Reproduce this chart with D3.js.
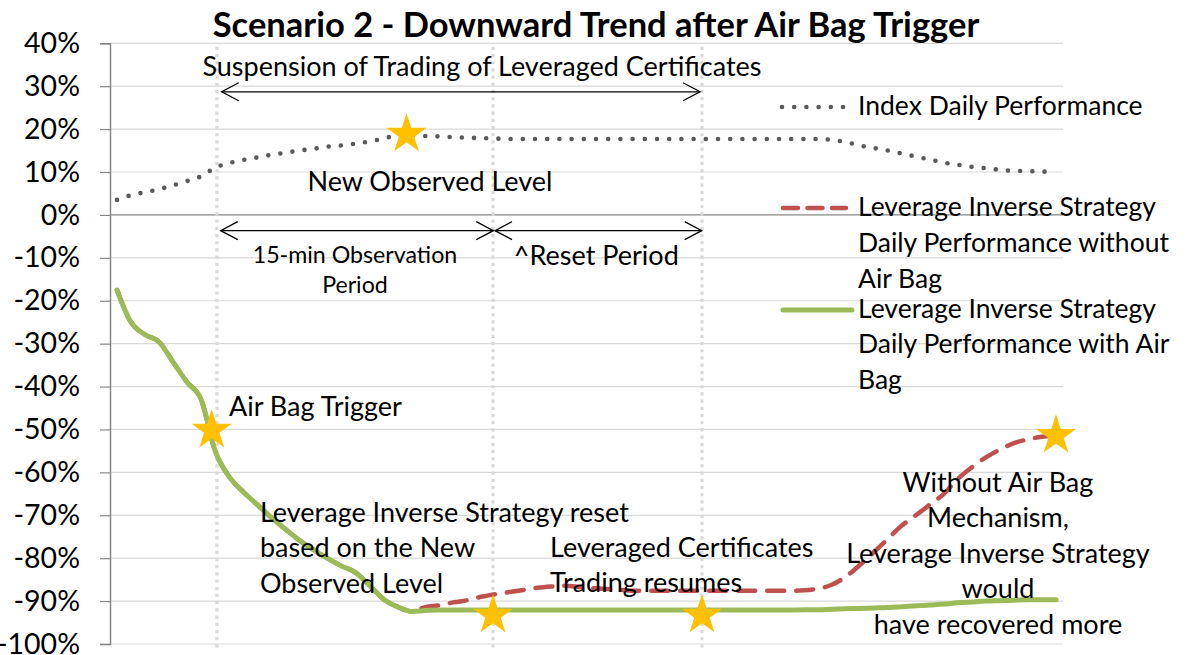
<!DOCTYPE html>
<html>
<head>
<meta charset="utf-8">
<script src="https://cdn.jsdelivr.net/npm/d3@7"></script>
<style>
  html, body { margin: 0; padding: 0; background: #fff; }
  svg { display: block; font-family: Lato, "Open Sans", sans-serif; }
</style>
</head>
<body>
<svg id="chart" width="1187" height="655"></svg>
<script>
// ---------------- DATA ----------------
const title = "Scenario 2 - Downward Trend after Air Bag Trigger";
const yTicks = [40, 30, 20, 10, 0, -10, -20, -30, -40, -50, -60, -70, -80, -90, -100];

// 68 time steps (category index 0..67)
const indexPerf = [
  3.5, 4.6, 5.3, 6.0, 6.9, 7.9, 9.0, 11.0, 12.1, 12.8,
  13.4, 14.0, 14.5, 15.0, 15.4, 15.9, 16.2, 16.6, 17.1, 17.8,
  18.5, 18.6, 18.4, 18.3, 18.1, 18.0, 17.9, 17.8, 17.7, 17.7,
  17.7, 17.7, 17.7, 17.7, 17.7, 17.7, 17.7, 17.7, 17.7, 17.7,
  17.7, 17.7, 17.7, 17.7, 17.7, 17.7, 17.7, 17.7, 17.7, 17.7,
  17.7, 17.5, 17.0, 16.2, 15.6, 15.0, 14.3, 13.6, 12.9, 12.2,
  11.7, 11.2, 10.9, 10.5, 10.3, 10.2, 10.1, 10.0
];
const withoutAirBag = [
  -17.5, -25.0, -27.9, -29.6, -34.3, -39.0, -43.0, -55.0, -61.0, -64.5,
  -67.5, -70.5, -73.2, -75.8, -78.0, -80.0, -81.8, -83.3, -86.3, -89.5,
  -91.3, -92.4, -91.4, -91.0, -90.3, -89.8, -89.0, -88.4, -87.9, -87.4,
  -86.9, -86.6, -86.4, -86.7, -87.0, -87.2, -87.4, -87.6, -87.6, -87.6,
  -87.6, -87.6, -87.6, -87.6, -87.6, -87.6, -87.6, -87.6, -87.6, -87.5,
  -87.1, -86.2, -84.3, -81.6, -78.6, -75.5, -72.4, -70.0, -67.5, -65.0,
  -61.5, -58.8, -56.5, -54.7, -53.2, -52.3, -51.7, -51.3
];
const withAirBag = [
  -17.5, -25.0, -27.9, -29.6, -34.3, -39.0, -43.0, -55.0, -61.0, -64.5,
  -67.5, -70.5, -73.2, -75.8, -78.0, -80.0, -81.8, -83.3, -86.3, -89.5,
  -91.3, -92.4, -92.2, -92.1, -92.1, -92.1, -92.1, -92.1, -92.1, -92.1,
  -92.1, -92.1, -92.1, -92.1, -92.1, -92.1, -92.1, -92.1, -92.1, -92.1,
  -92.1, -92.1, -92.1, -92.1, -92.1, -92.1, -92.1, -92.1, -92.1, -92.0,
  -92.0, -91.9, -91.8, -91.7, -91.6, -91.5, -91.3, -91.1, -90.9, -90.7,
  -90.4, -90.2, -90.0, -89.9, -89.8, -89.7, -89.7, -89.7
];

// stars: [step, value]
const starPoints = [[20.66, 18.8], [6.76, -50.2], [26.83, -93.3], [41.74, -93.3], [67, -51.4]];
// vertical dotted marker lines (step positions)
const markerSteps = [7.13, 26.83, 41.74];
// double arrows: [fromStep, toStep, value, headAtStart, headAtEnd]
const arrows = [
  [7.47, 41.6, 28.7, true, true],
  [7.40, 26.85, -3.66, true, true],
  [26.97, 41.72, -3.66, true, true]
];
// text annotations: step, value (first baseline), anchor, size, lines
const notes = [
  {x: 26.04, y: 32.3, anchor: "middle", size: 27, lines: ["Suspension of Trading of Leveraged Certificates"]},
  {x: 22.33, y: 5.5, anchor: "middle", size: 27, lines: ["New Observed Level"]},
  {x: 16.98, y: -11.2, anchor: "middle", size: 23.2, lh: 30, lines: ["15-min Observation", "Period"]},
  {x: 34.2, y: -11.66, anchor: "middle", size: 27, lines: ["^Reset Period"]},
  {x: 7.99, y: -46.9, anchor: "start", size: 27, lines: ["Air Bag Trigger"]},
  {x: 10.2, y: -71.5, anchor: "start", size: 27, lh: 35.7, lines: ["Leverage Inverse Strategy reset", "based on the New", "Observed Level"]},
  {x: 30.9, y: -79.7, anchor: "start", size: 27, lh: 35.5, lines: ["Leveraged Certificates", "Trading resumes"]},
  {x: 62.86, y: -64.5, anchor: "middle", size: 27, lh: 35.6, lines: ["Without Air Bag", "Mechanism,", "Leverage Inverse Strategy", "would", "have recovered more"]}
];
const legendItems = [
  {key: "index", lines: ["Index Daily Performance"]},
  {key: "without", lines: ["Leverage Inverse Strategy", "Daily Performance without", "Air Bag"]},
  {key: "with", lines: ["Leverage Inverse Strategy", "Daily Performance with Air", "Bag"]}
];

// ---------------- STYLES ----------------
const colors = {index: "#595959", without: "#C0504D", with: "#9BBB59", star: "#FFC000"};
const plot = {left: 110, right: 1063, top: 43.3, bottom: 644};
const nSteps = indexPerf.length;

const svg = d3.select("#chart");
const x = d3.scaleLinear().domain([-0.5, nSteps - 0.5]).range([plot.left, plot.right]);
const y = d3.scaleLinear().domain([-100, 40]).range([plot.bottom, plot.top]);

// gridlines
svg.append("g").selectAll("line").data(yTicks).join("line")
  .attr("x1", plot.left).attr("x2", plot.right)
  .attr("y1", d => y(d)).attr("y2", d => y(d))
  .attr("stroke", d => d === 0 ? "#868686" : "#D9D9D9")
  .attr("stroke-width", 1.2);

// y axis
const yAxis = d3.axisLeft(y).tickValues(yTicks).tickSize(10).tickPadding(20)
  .tickFormat(d => d + "%");
const ga = svg.append("g").attr("transform", `translate(${plot.left},0)`).call(yAxis);
ga.select(".domain").attr("stroke", "#868686").attr("stroke-width", 1.5);
ga.selectAll(".tick line").attr("stroke", "#868686").attr("stroke-width", 1.2);
ga.selectAll(".tick text").attr("font-family", "Lato").attr("font-size", 28.5).attr("fill", "#000");

// vertical dotted markers
svg.append("g").selectAll("line").data(markerSteps).join("line")
  .attr("x1", d => x(d)).attr("x2", d => x(d))
  .attr("y1", y(39.2)).attr("y2", y(-101))
  .attr("stroke", "#D9D9D9").attr("stroke-width", 3.2)
  .attr("stroke-dasharray", "3.2,4");

// series lines
const line = d3.line().x((d, i) => x(i)).y(d => y(d)).curve(d3.curveMonotoneX);
svg.append("path").datum(indexPerf).attr("d", line)
  .attr("fill", "none").attr("stroke", colors.index).attr("stroke-width", 4.6)
  .attr("stroke-linecap", "round").attr("stroke-dasharray", "0,12.2");
svg.append("path").datum(withoutAirBag).attr("d", line)
  .attr("fill", "none").attr("stroke", colors.without).attr("stroke-width", 4.5)
  .attr("stroke-linecap", "round").attr("stroke-dasharray", "17,12");
svg.append("path").datum(withAirBag).attr("d", line)
  .attr("fill", "none").attr("stroke", colors.with).attr("stroke-width", 5)
  .attr("stroke-linecap", "round").attr("stroke-linejoin", "round");

// arrows
const ag = svg.append("g").attr("stroke", "#000").attr("stroke-width", 1.3).attr("fill", "none");
const headL = 17, headW = 9;
arrows.forEach(([a, b, v, hs, he]) => {
  const x1 = x(a), x2 = x(b), yy = y(v);
  ag.append("line").attr("x1", x1).attr("x2", x2).attr("y1", yy).attr("y2", yy);
  if (hs) ag.append("path").attr("d", `M${x1 + headL},${yy - headW}L${x1},${yy}L${x1 + headL},${yy + headW}`);
  if (he) ag.append("path").attr("d", `M${x2 - headL},${yy - headW}L${x2},${yy}L${x2 - headL},${yy + headW}`);
});

// stars
const star = d3.symbol(d3.symbolStar).size(500);
svg.append("g").selectAll("path").data(starPoints).join("path")
  .attr("d", star).attr("fill", colors.star)
  .attr("transform", d => `translate(${x(d[0])},${y(d[1])})`);

// annotations
notes.forEach(n => {
  const t = svg.append("text").attr("x", x(n.x)).attr("y", y(n.y))
    .attr("text-anchor", n.anchor).attr("font-size", n.size).attr("fill", "#000");
  n.lines.forEach((ln, i) => {
    t.append("tspan").attr("x", x(n.x)).attr("dy", i === 0 ? 0 : (n.lh || 36)).text(ln);
  });
});

// legend
const legendX = 780, legendTextX = 858;
const legendY = [107, 208, 310];
const legendLH = [36, 36, 35.5];
const lg = svg.append("g");
legendItems.forEach((it, k) => {
  const yy = legendY[k];
  const s = lg.append("line").attr("x1", legendX).attr("x2", it.key === "with" ? 852 : 846)
    .attr("y1", yy).attr("y2", yy).attr("stroke", colors[it.key]).attr("stroke-linecap", "round");
  if (it.key === "index") s.attr("stroke-width", 4.6).attr("stroke-dasharray", "0,12.2").attr("x1", legendX + 2);
  if (it.key === "without") s.attr("stroke-width", 4.5).attr("stroke-dasharray", "15,9.5").attr("x1", legendX + 3);
  if (it.key === "with") s.attr("stroke-width", 5).attr("x1", legendX + 3);
  const t = lg.append("text").attr("x", legendTextX).attr("y", yy + 7.5)
    .attr("font-size", 26.5).attr("fill", "#000");
  it.lines.forEach((ln, i) => t.append("tspan").attr("x", legendTextX).attr("dy", i === 0 ? 0 : legendLH[k]).text(ln));
});

// title
svg.append("text").attr("x", 596).attr("y", 37).attr("text-anchor", "middle")
  .attr("font-size", 34.5).attr("font-weight", "bold").attr("fill", "#000").text(title);
</script>
</body>
</html>
